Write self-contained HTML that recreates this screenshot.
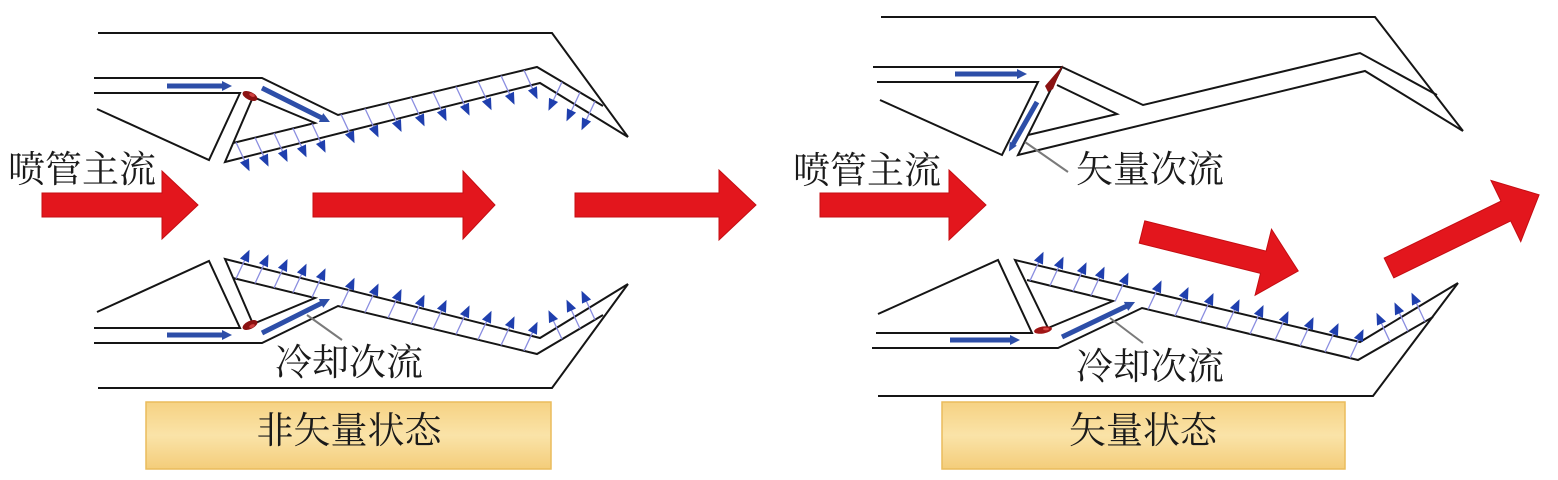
<!DOCTYPE html>
<html>
<head>
<meta charset="utf-8">
<style>
  html, body { margin:0; padding:0; background:#ffffff; }
  svg { display:block; }
  .t { font-family: "Liberation Serif", "Noto Serif CJK SC", serif; font-size:37px; fill:#1a1a1a; }
</style>
</head>
<body>
<svg width="1558" height="480" viewBox="0 0 1558 480" xmlns="http://www.w3.org/2000/svg">
  <defs>
    <linearGradient id="lab" x1="0" y1="0" x2="0" y2="1">
      <stop offset="0" stop-color="#f6d283"/>
      <stop offset="0.5" stop-color="#fae3a8"/>
      <stop offset="1" stop-color="#f4cd7a"/>
    </linearGradient>
    <g id="ha">
      <line x1="0" y1="0" x2="0" y2="23" stroke="#8a8de0" stroke-width="1.3"/>
      <polygon points="-5,20 5,20 0,32" fill="#1f3fae"/>
    </g>
    <!-- left diagram, top half -->
    <g id="LT">
      <g fill="none" stroke="#151515" stroke-width="2" stroke-linejoin="miter">
        <polyline points="98,33 552,33 628,137"/>
        <polyline points="94,78 262,78 338,115 537,67 603,106"/>
        <polyline points="94,93 240,93 209,160 97,109"/>
        <polyline points="253,97 225,162 540,83 628,137"/>
        <polyline points="253,97 315,123 233,143"/>
      </g>
      <use href="#ha" transform="translate(236,142.3) rotate(-25)"/>
      <use href="#ha" transform="translate(255,137.6) rotate(-25)"/>
      <use href="#ha" transform="translate(274,133) rotate(-25)"/>
      <use href="#ha" transform="translate(293,128.4) rotate(-25)"/>
      <use href="#ha" transform="translate(312,123.7) rotate(-25)"/>
      <use href="#ha" transform="translate(341,114.3) rotate(-25)"/>
      <use href="#ha" transform="translate(365,108.5) rotate(-25)"/>
      <use href="#ha" transform="translate(388,103) rotate(-25)"/>
      <use href="#ha" transform="translate(411,97.4) rotate(-25)"/>
      <use href="#ha" transform="translate(433,92.1) rotate(-25)"/>
      <use href="#ha" transform="translate(456,86.6) rotate(-25)"/>
      <use href="#ha" transform="translate(478,81.3) rotate(-25)"/>
      <use href="#ha" transform="translate(501,75.7) rotate(-25)"/>
      <use href="#ha" transform="translate(524,70.2) rotate(-25)"/>
      <use href="#ha" transform="translate(562,81.8) rotate(25)"/>
      <use href="#ha" transform="translate(580,92.4) rotate(25)"/>
      <use href="#ha" transform="translate(595,101.3) rotate(25)"/>
      <!-- blue flow arrows -->
      <line x1="167" y1="86" x2="224" y2="86" stroke="#2d4ea8" stroke-width="5"/>
      <polygon points="222,81 232,86 222,91" fill="#2d4ea8"/>
      <g transform="translate(262,88) rotate(26.6)">
        <line x1="0" y1="0" x2="68" y2="0" stroke="#2d4ea8" stroke-width="5"/>
        <polygon points="66,-5 76,0 66,5" fill="#2d4ea8"/>
      </g>
      <ellipse cx="250" cy="96" rx="8" ry="4" transform="rotate(25 250 96)" fill="#8b1212"/>
      <ellipse cx="252" cy="95" rx="3" ry="1.6" transform="rotate(25 252 95)" fill="#d04040"/>
    </g>
  </defs>

  <rect x="0" y="0" width="1558" height="480" fill="#ffffff"/>

  <!-- LEFT DIAGRAM -->
  <use href="#LT"/>
  <use href="#LT" transform="matrix(1 0 0 -1 0 421)"/>

  <!-- left leader -->
  <line x1="307" y1="315" x2="342" y2="340" stroke="#7a7a7a" stroke-width="2"/>

  <!-- left red arrows -->
  <g fill="#e3161d" stroke="#c40d12" stroke-width="1">
    <polygon points="42,193 162,193 162,171 198,205 162,239 162,217 42,217"/>
    <polygon points="313,193 463,193 463,171 495,205 463,239 463,217 313,217"/>
    <polygon points="575,193 719,193 719,170 756,205 719,240 719,217 575,217"/>
  </g>

  <!-- RIGHT DIAGRAM top -->
  <g fill="none" stroke="#151515" stroke-width="2" stroke-linejoin="miter">
    <polyline points="881,17 1375,17 1463,131"/>
    <polyline points="873,67 1062,67 1143,105 1360,53 1437,95"/>
    <polyline points="877,82 1038,82 1002,155 880,100"/>
    <polyline points="1062,67 1018,155 1365,71 1463,131"/>
    <polyline points="1057,85 1117,114 1028,135"/>
  </g>
  <line x1="955" y1="74" x2="1019" y2="74" stroke="#2d4ea8" stroke-width="5"/>
  <polygon points="1017,69 1027,74 1017,79" fill="#2d4ea8"/>
  <g transform="translate(1037,102) rotate(119.6)">
    <line x1="0" y1="0" x2="50" y2="0" stroke="#2d4ea8" stroke-width="5"/>
    <polygon points="48,-4 57,0 48,4" fill="#2d4ea8"/>
  </g>
  <polygon points="1063,65 1053,89 1048,92 1045,86" fill="#8b1212"/>
  <line x1="1025" y1="142" x2="1068" y2="172" stroke="#7a7a7a" stroke-width="2"/>

  <!-- RIGHT DIAGRAM bottom -->
  <g fill="none" stroke="#151515" stroke-width="2" stroke-linejoin="miter">
    <polyline points="878,396 1373,396 1458,283"/>
    <polyline points="872,348 1058,348 1142,308 1358,360 1433,317"/>
    <polyline points="876,333 1032,333 998,260 878,314"/>
    <polyline points="1048,328 1015,260 1360,342 1458,283"/>
    <polyline points="1048,328 1113,301 1027,280"/>
  </g>
  <use href="#ha" transform="translate(1030,280.7) rotate(-155)"/>
  <use href="#ha" transform="translate(1050,285.6) rotate(-155)"/>
  <use href="#ha" transform="translate(1073,291.2) rotate(-155)"/>
  <use href="#ha" transform="translate(1091,295.6) rotate(-155)"/>
  <use href="#ha" transform="translate(1115,301.5) rotate(-155)"/>
  <use href="#ha" transform="translate(1148,309.4) rotate(-155)"/>
  <use href="#ha" transform="translate(1175,316) rotate(-155)"/>
  <use href="#ha" transform="translate(1200,322) rotate(-155)"/>
  <use href="#ha" transform="translate(1226,328.2) rotate(-155)"/>
  <use href="#ha" transform="translate(1250,334) rotate(-155)"/>
  <use href="#ha" transform="translate(1275,340) rotate(-155)"/>
  <use href="#ha" transform="translate(1300,346.1) rotate(-155)"/>
  <use href="#ha" transform="translate(1325,352.1) rotate(-155)"/>
  <use href="#ha" transform="translate(1350,358.1) rotate(-155)"/>
  <use href="#ha" transform="translate(1390,341.7) rotate(155)"/>
  <use href="#ha" transform="translate(1408,331.4) rotate(155)"/>
  <use href="#ha" transform="translate(1425,321.6) rotate(155)"/>
  <line x1="950" y1="340" x2="1012" y2="340" stroke="#2d4ea8" stroke-width="5"/>
  <polygon points="1010,335 1020,340 1010,345" fill="#2d4ea8"/>
  <g transform="translate(1062,337) rotate(-25.6)">
    <line x1="0" y1="0" x2="73" y2="0" stroke="#2d4ea8" stroke-width="5"/>
    <polygon points="71,-5 81,0 71,5" fill="#2d4ea8"/>
  </g>
  <ellipse cx="1043" cy="330" rx="9" ry="3.5" transform="rotate(-10 1043 330)" fill="#a01515"/>
  <ellipse cx="1046" cy="329" rx="3" ry="1.4" fill="#dc4848"/>
  <line x1="1110" y1="318" x2="1143" y2="343" stroke="#7a7a7a" stroke-width="2"/>

  <!-- right red arrows -->
  <g fill="#e3161d" stroke="#c40d12" stroke-width="1">
    <polygon points="820,193 949,193 949,170 986,205 949,240 949,217 820,217"/>
    <polygon transform="translate(1142,232) rotate(14)" points="0,-11.5 125,-11.5 125,-34 161,0 125,34 125,11.5 0,11.5"/>
    <polygon transform="translate(1389,268) rotate(-26)" points="0,-11 130,-11 130,-34 167,0 130,34 130,11 0,11"/>
  </g>

  <!-- labels -->
  <text class="t" x="8" y="182">喷管主流</text>
  <text class="t" x="275" y="375">冷却次流</text>
  <text class="t" x="793" y="183">喷管主流</text>
  <text class="t" x="1076" y="182">矢量次流</text>
  <text class="t" x="1076" y="379">冷却次流</text>

  <!-- state boxes -->
  <rect x="146" y="402" width="405" height="67" fill="url(#lab)" stroke="#eabc5c" stroke-width="1.5"/>
  <text class="t" x="349" y="443" text-anchor="middle">非矢量状态</text>
  <rect x="942" y="402" width="403" height="67" fill="url(#lab)" stroke="#eabc5c" stroke-width="1.5"/>
  <text class="t" x="1143" y="443" text-anchor="middle">矢量状态</text>
</svg>
</body>
</html>
